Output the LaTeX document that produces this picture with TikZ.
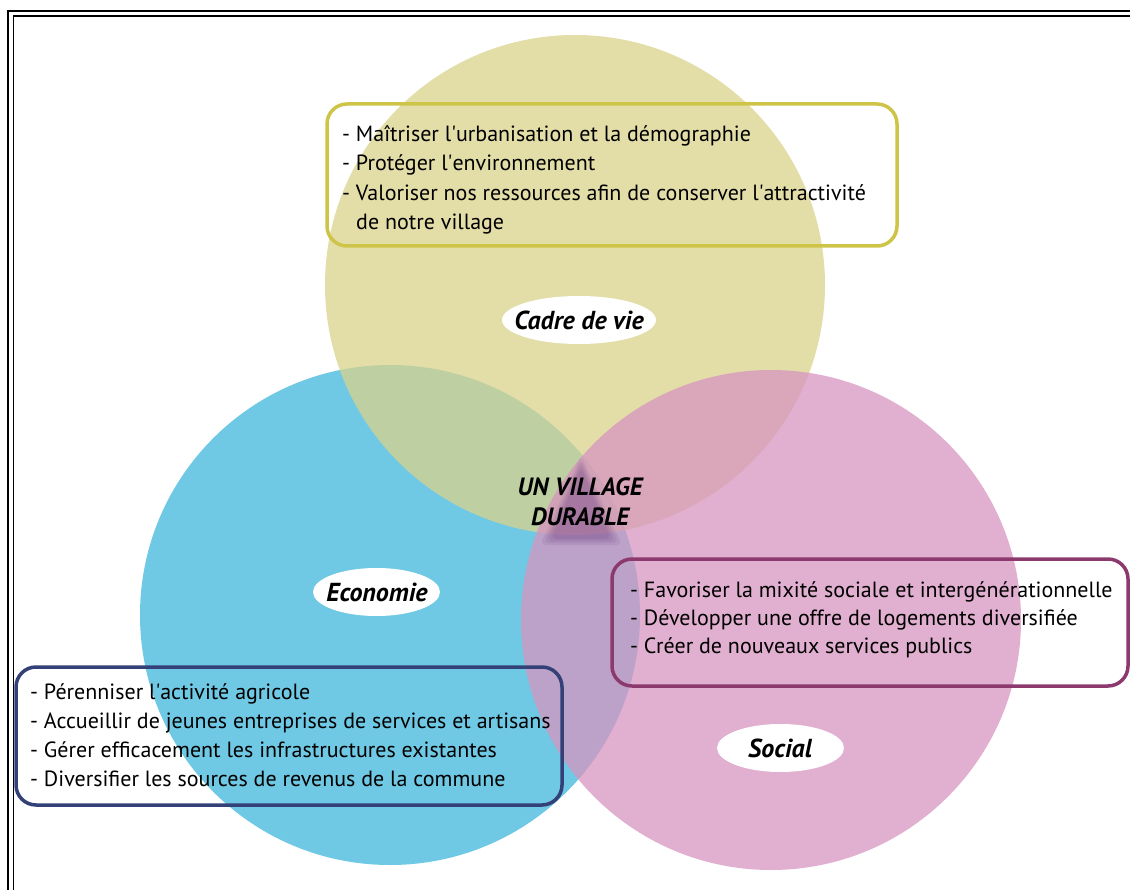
\documentclass[tikz,border=0pt]{standalone}
\usepackage{fontspec}
\setmainfont{PT Sans}
\usetikzlibrary{shapes.geometric}
\newcommand{\ap}{\textquotesingle}
\begin{document}
\begin{tikzpicture}[x=1pt,y=-1pt]
\definecolor{ycol}{RGB}{218,210,139}
\definecolor{bcol}{RGB}{63,183,219}
\definecolor{pcol}{RGB}{215,148,191}
\definecolor{yline}{RGB}{205,196,72}
\definecolor{pline}{RGB}{140,58,110}
\definecolor{bline}{RGB}{52,64,120}
\definecolor{tri}{RGB}{120,75,140}
\tikzset{
  listtxt/.style={anchor=base west, inner sep=0pt, font=\fontsize{22}{26}\selectfont},
  lbltxt/.style={inner sep=0pt, font=\fontsize{26}{30}\selectfont\bfseries\itshape},
  listbox/.style={rounded corners=20pt, line width=3.5pt},
}
\useasboundingbox (0,0) rectangle (1130,890);
% frame
\draw[line width=2.5pt] (8,900) -- (8,11) -- (1140,11);
\draw[line width=1.5pt] (13.5,900) -- (13.5,16) -- (1140,16);
% circles
\fill[bcol, fill opacity=0.75] (390,615) circle (250pt);
\fill[ycol, fill opacity=0.75] (575,285) circle (250pt);
\fill[pcol, fill opacity=0.75] (771,620) circle (250pt);
% blurred triangle
\foreach \o/\s in {0.12/0, 0.14/4, 0.16/8, 0.18/12}{
  \fill[tri, fill opacity=\o, rounded corners=6pt]
    (581,455+\s) -- (540+\s*0.9,545-\s*0.5) -- (622-\s*0.9,545-\s*0.5) -- cycle;
}
% labels
\fill[white] (579,320) ellipse [x radius=77pt, y radius=24pt];
\node[lbltxt] (cadre) at (579,320) {Cadre de vie};
\fill[white] (376.5,592) ellipse [x radius=63.5pt, y radius=24pt];
\node[lbltxt] (eco) at (377,592) {Economie};
\fill[white] (780.5,748) ellipse [x radius=63.5pt, y radius=24pt];
\node[lbltxt] (soc) at (780,748) {Social};
\node[font=\fontsize{25}{30}\selectfont\bfseries\itshape, align=center, inner sep=0pt] (centre) at (580,502) {UN VILLAGE\\DURABLE};
% boxes
\draw[yline, listbox] (327,104) rectangle (897,246);
\draw[pline, listbox] (612,559) rectangle (1128,686);
\draw[bline, listbox] (16,667) rectangle (562,805);
% texts
\node[listtxt] (c1) at (342,142) {- Maîtriser l\ap urbanisation et la démographie};
\node[listtxt] (c2) at (342,171) {- Protéger l\ap environnement};
\node[listtxt] (c3) at (342,201) {- Valoriser nos ressources afin de conserver l\ap attractivité};
\node[listtxt] (c4) at (356,230) {de notre village};
\node[listtxt] (s1) at (630,597) {- Favoriser la mixité sociale et intergénérationnelle};
\node[listtxt] (s2) at (630,625) {- Développer une offre de logements diversifiée};
\node[listtxt] (s3) at (630,653) {- Créer de nouveaux services publics};
\node[listtxt] (e1) at (30,699) {- Pérenniser l\ap activité agricole};
\node[listtxt] (e2) at (30,728) {- Accueillir de jeunes entreprises de services et artisans};
\node[listtxt] (e3) at (30,757) {- Gérer efficacement les infrastructures existantes};
\node[listtxt] (e4) at (30,786) {- Diversifier les sources de revenus de la commune};
\end{tikzpicture}
\end{document}
